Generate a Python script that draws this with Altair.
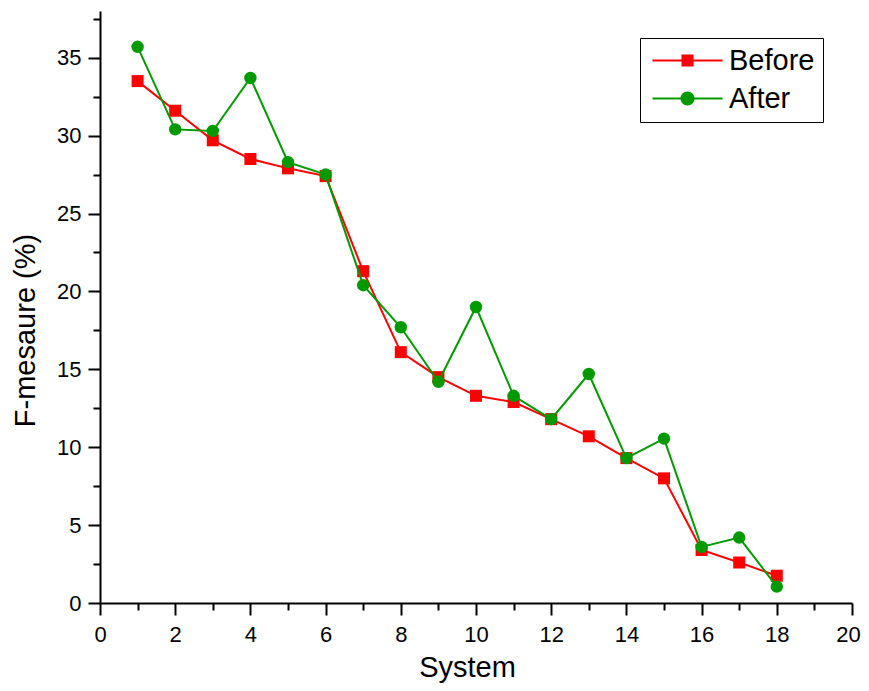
import altair as alt
import pandas as pd

systems = list(range(1, 19))
before = [33.5, 31.6, 29.7, 28.5, 27.9, 27.4, 21.3, 16.1, 14.5, 13.3, 12.9, 11.8, 10.7, 9.3, 8.0, 3.4, 2.6, 1.75]
after = [35.7, 30.4, 30.3, 33.7, 28.3, 27.5, 20.4, 17.7, 14.2, 19.0, 13.3, 11.8, 14.7, 9.3, 10.55, 3.6, 4.2, 1.05]
series_names = ["Before", "After"]
series_colors = ["#ff0000", "#009a00"]
x_ticks = [0, 2, 4, 6, 8, 10, 12, 14, 16, 18, 20]
x_minor = [1, 3, 5, 7, 9, 11, 13, 15, 17, 19]
y_ticks = [0, 5, 10, 15, 20, 25, 30, 35]
y_minor = [2.5, 7.5, 12.5, 17.5, 22.5, 27.5, 32.5, 37.5]

df = pd.DataFrame({
    "System": systems * 2,
    "F": before + after,
    "series": ["Before"] * len(systems) + ["After"] * len(systems),
})

FONT = "Liberation Sans"
xs = alt.Scale(domain=[0, 20], nice=False, zero=False)
ys = alt.Scale(domain=[0, 38], nice=False, zero=False)

main_x_axis = alt.Axis(values=x_ticks, title="System", orient="bottom", grid=False,
                       tickSize=12, tickWidth=2, domainWidth=2, labelPadding=9,
                       labelFontSize=22, titleFontSize=29, titleFontWeight="normal",
                       titleX=367, titleY=73, titleBaseline="alphabetic",
                       labelFlush=False,
                       labelOffset={"condition": {"test": "datum.value == 20", "value": -4}, "value": 0})
main_y_axis = alt.Axis(values=y_ticks, title="F-mesaure (%)", orient="left", grid=False,
                       tickSize=12, tickWidth=2, domainWidth=2, labelPadding=7,
                       labelFontSize=22, titleFontSize=29, titleFontWeight="normal",
                       titleX=-66, titleY=319, titleBaseline="alphabetic", titleAngle=270,
                       labelFlush=False)
minor_x_axis = alt.Axis(values=x_minor, labels=False, domain=False, grid=False,
                        tickSize=7, tickWidth=2, orient="bottom", title=None)
minor_y_axis = alt.Axis(values=y_minor, labels=False, domain=False, grid=False,
                        tickSize=7, tickWidth=2, orient="left", title=None)

base = alt.Chart(df)
layers = []
shapes = ["square", "circle"]
sizes = [144, 154]
for i, name in enumerate(series_names):
    sub = base.transform_filter(alt.datum.series == name)
    if i == 0:
        line = sub.mark_line(color=series_colors[i], strokeWidth=2).encode(
            x=alt.X("System:Q", scale=xs, axis=main_x_axis),
            y=alt.Y("F:Q", scale=ys, axis=main_y_axis),
            order="System:Q",
        )
    else:
        line = sub.mark_line(color=series_colors[i], strokeWidth=2).encode(
            x=alt.X("System:Q", scale=xs, axis=None),
            y=alt.Y("F:Q", scale=ys, axis=None),
            order="System:Q",
        )
    pts = sub.mark_point(filled=True, opacity=1, color=series_colors[i],
                         shape=shapes[i], size=sizes[i]).encode(
        x=alt.X("System:Q", scale=xs, axis=None),
        y=alt.Y("F:Q", scale=ys, axis=None),
    )
    layers += [line, pts]

before_path = ("M-2.5,-0.07H-0.43V0.07H-2.5Z M0.43,-0.07H2.5V0.07H0.43Z "
               "M-0.43,-0.43H0.43V0.43H-0.43Z")
after_path = ("M-2.5,-0.07H-0.5V0.07H-2.5Z M0.5,-0.07H2.5V0.07H0.5Z "
              "M-0.5,0A0.5,0.5 0 1,0 0.5,0A0.5,0.5 0 1,0 -0.5,0Z")

legend = alt.Legend(title=None, orient="none", legendX=540, legendY=27,
                    labelFont=FONT, labelFontSize=29, labelColor="black",
                    symbolSize=784, symbolStrokeWidth=0, symbolOffset=25,
                    labelOffset=27, rowPadding=8, padding=8,
                    strokeColor="black", fillColor="white")

legend_layer = base.transform_filter("false").mark_point(filled=True, opacity=1, size=784).encode(
    x=alt.X("System:Q", scale=xs, axis=minor_x_axis),
    y=alt.Y("F:Q", scale=ys, axis=minor_y_axis),
    color=alt.Color("series:N", scale=alt.Scale(domain=series_names, range=series_colors),
                    legend=legend),
    shape=alt.Shape("series:N", scale=alt.Scale(domain=series_names, range=[before_path, after_path]),
                    legend=legend),
)

chart = alt.layer(*layers, legend_layer).resolve_axis(
    x="independent", y="independent"
).properties(
    width=752, height=592,
    autosize=alt.AutoSizeParams(type="none"),
    padding={"left": 92, "top": 3, "right": 9, "bottom": 80},
    background="white",
).configure_view(stroke=None).configure_axis(
    labelFont=FONT, titleFont=FONT, labelColor="black", titleColor="black",
    domainColor="black", tickColor="black",
)

chart.save("out.html", embed_options={"renderer": "svg", "actions": False})
